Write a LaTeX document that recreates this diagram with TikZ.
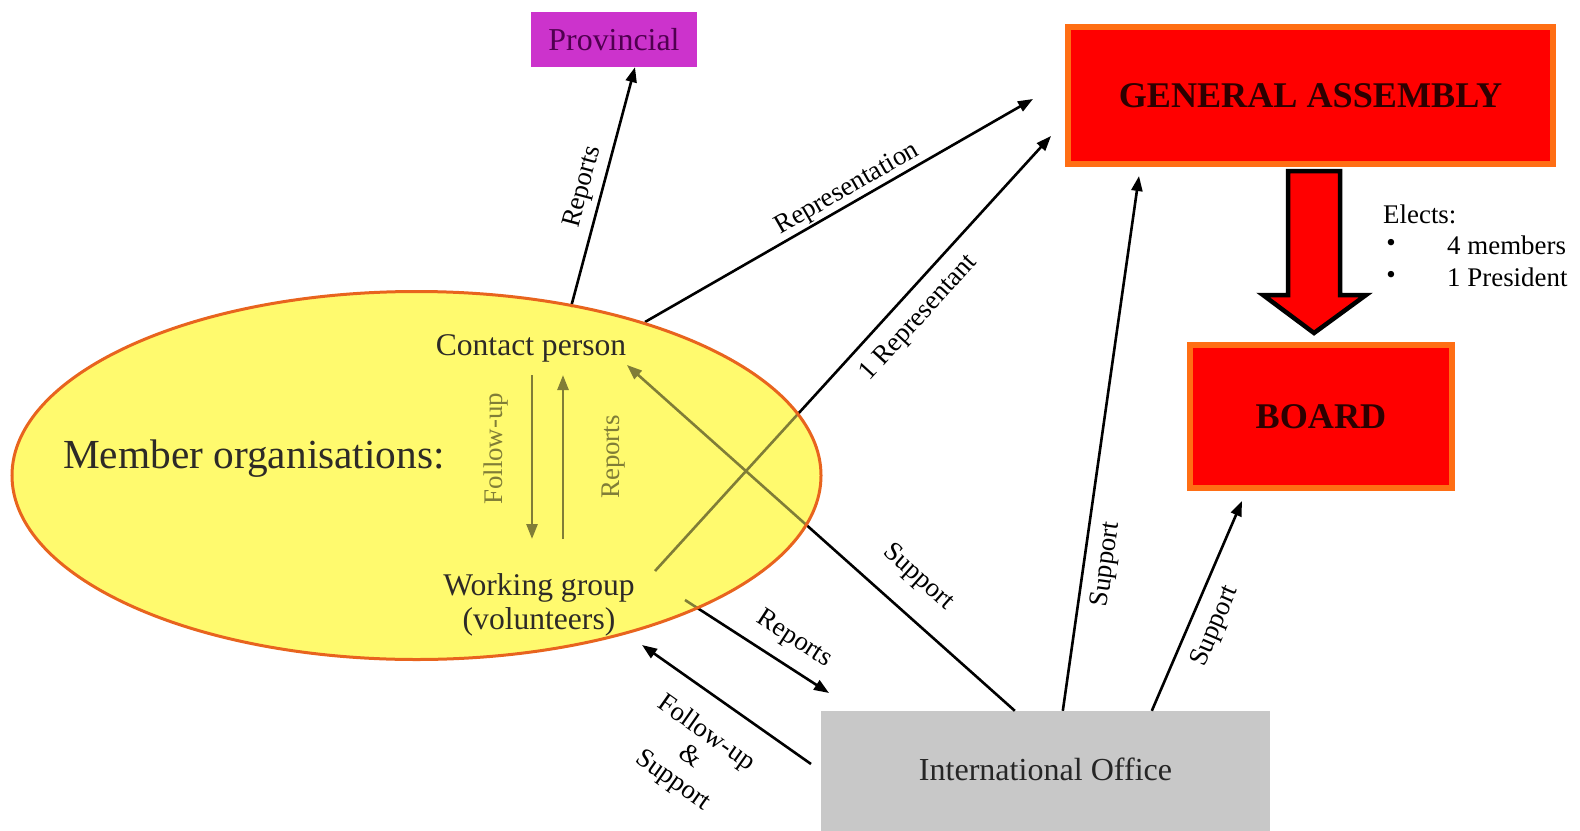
\documentclass[tikz,border=0pt]{standalone}
\usepackage{fontspec}
\setmainfont{Liberation Serif}
\usetikzlibrary{arrows.meta,shapes.geometric}
\definecolor{boxred}{RGB}{255,0,0}
\definecolor{boxorange}{RGB}{255,110,20}
\definecolor{ellfill}{RGB}{255,250,110}
\definecolor{ellline}{RGB}{232,100,30}
\definecolor{iogray}{RGB}{200,200,200}
\definecolor{provmag}{RGB}{204,51,204}
\definecolor{provtext}{RGB}{80,0,80}
\definecolor{redtext}{RGB}{45,0,0}
\pgfdeclarelayer{ellbase}
\pgfdeclarelayer{veil}
\pgfdeclarelayer{top}
\pgfsetlayers{ellbase,main,veil,top}
\begin{document}
\begin{tikzpicture}[x=1bp,y=-1bp,
 arr/.style={line width=2.6bp,-{Triangle[length=15bp,width=11bp]}},
 lbl/.style={font=\fontsize{27}{30}\selectfont,inner sep=3bp},
 redbox/.style={draw=boxorange,line width=5.5bp,fill=boxred,text=redtext,
   font=\bfseries\fontsize{36.3}{38}\selectfont},
 txt/.style={font=\fontsize{31.7}{34}\selectfont,text=black!90!olive},
]
\useasboundingbox (0,0) rectangle (1580,830);
% boxes
\node[fill=provmag,minimum width=166bp,minimum height=55bp,text=provtext,
  font=\fontsize{32}{34}\selectfont] (prov) at (614,39.5) {Provincial};
\node[redbox,minimum width=485bp,minimum height=137bp] (ga) at (1310.5,95.5) {\raisebox{-7bp}{GENERAL ASSEMBLY}};
\node[redbox,minimum width=262bp,minimum height=143bp] (board) at (1321,416.5) {\raisebox{-4bp}{BOARD}};
\node[fill=iogray,minimum width=449bp,minimum height=122bp,
  font=\fontsize{32.2}{34}\selectfont,text=black!85] (io) at (1045.5,772) {\raisebox{6bp}{International Office}};
% elects arrow
\draw[line width=4.5bp,fill=boxred,line join=miter]
  (1288,171) -- (1340,171) -- (1340,295) -- (1366,295) -- (1314,333)
  -- (1263,295) -- (1288,295) -- cycle;
\node[lbl,anchor=west] (elects) at (1380,214) {Elects:};
\node[lbl] (b1) at (1391,245) {\textbullet};
\node[lbl,anchor=west] (m4) at (1444,245) {4 members};
\node[lbl] (b2) at (1391,277) {\textbullet};
\node[lbl,anchor=west] (pres) at (1444,277) {1 President};
% ellipse base
\begin{pgfonlayer}{ellbase}
\fill[ellfill] (416.5,475.5) ellipse [x radius=404.5, y radius=184];
\end{pgfonlayer}
\begin{pgfonlayer}{veil}
\fill[ellfill,opacity=0.5] (416.5,475.5) ellipse [x radius=404.5, y radius=184];
\end{pgfonlayer}
\begin{pgfonlayer}{top}
\node[ellipse,draw=ellline,line width=3bp,minimum width=809bp,minimum height=368bp,inner sep=0pt] (mo) at (416.5,475.5) {};
\node[font=\fontsize{41.5}{44}\selectfont,text=black!90!olive] (member) at (254,459) {Member organisations:};
\node[txt] (contact) at (531,348) {Contact person};
\node[txt,align=center,font=\fontsize{31.7}{34.5}\selectfont] (wg) at (539,605) {Working group\\(volunteers)};
\end{pgfonlayer}
% free ends
\coordinate (cpTop) at (571,307);
\coordinate (cpRight) at (645,322);
\coordinate (gaRep) at (1033,99);
\coordinate (wgRight) at (655,571);
\coordinate (gaRep2) at (1051,136);
\coordinate (cpIn) at (627,365);
\coordinate (wgOut) at (685,600);
\coordinate (ioIn) at (829,693);
\coordinate (ioLeft) at (811,764);
\coordinate (wgIn) at (642,645);
\coordinate (gaIn) at (1139,176);
\coordinate (boardIn) at (1242,501);
\coordinate (fuTop) at (532,375);
\coordinate (fuBot) at (532,539);
\coordinate (rpBot) at (563,539);
\coordinate (rpTop) at (563,375);
% connectors
\draw[arr] (cpTop) -- ([xshift=21bp]prov.south)
  node[lbl,sloped,pos=0.48,above,inner sep=6bp] {Reports};
\draw[arr] (cpRight) -- (gaRep)
  node[lbl,sloped,pos=0.54,above,inner sep=1bp] {Representation};
\draw[arr] (wgRight) -- (gaRep2)
  node[lbl,sloped,pos=0.62,below,inner sep=12bp] {1 Representant};
\draw[arr] ([xshift=194bp]io.north west) -- (cpIn)
  node[lbl,sloped,pos=0.31,above,inner sep=22bp] {Support};
\draw[arr] (wgOut) -- (ioIn)
  node[lbl,sloped,pos=0.66,above,inner sep=13bp] {Reports};
\draw[arr] (ioLeft) -- (wgIn)
  node[lbl,sloped,pos=0.5,below,align=center,inner sep=22bp,
    font=\fontsize{27}{29}\selectfont] {Follow-up\\\&\\Support};
\draw[arr] ([xshift=242bp]io.north west) -- (gaIn)
  node[lbl,sloped,pos=0.28,below,inner sep=10bp] {Support};
\draw[arr] ([xshift=331bp]io.north west) -- (boardIn)
  node[lbl,sloped,pos=0.45,below,inner sep=12bp] {Support};
\draw[arr] (fuTop) -- (fuBot)
  node[lbl,pos=0.45,rotate=90,anchor=south,inner sep=22bp] {Follow-up};
\draw[arr] (rpBot) -- (rpTop)
  node[lbl,sloped,pos=0.5,below,inner sep=38bp] {Reports};
\end{tikzpicture}
\end{document}
